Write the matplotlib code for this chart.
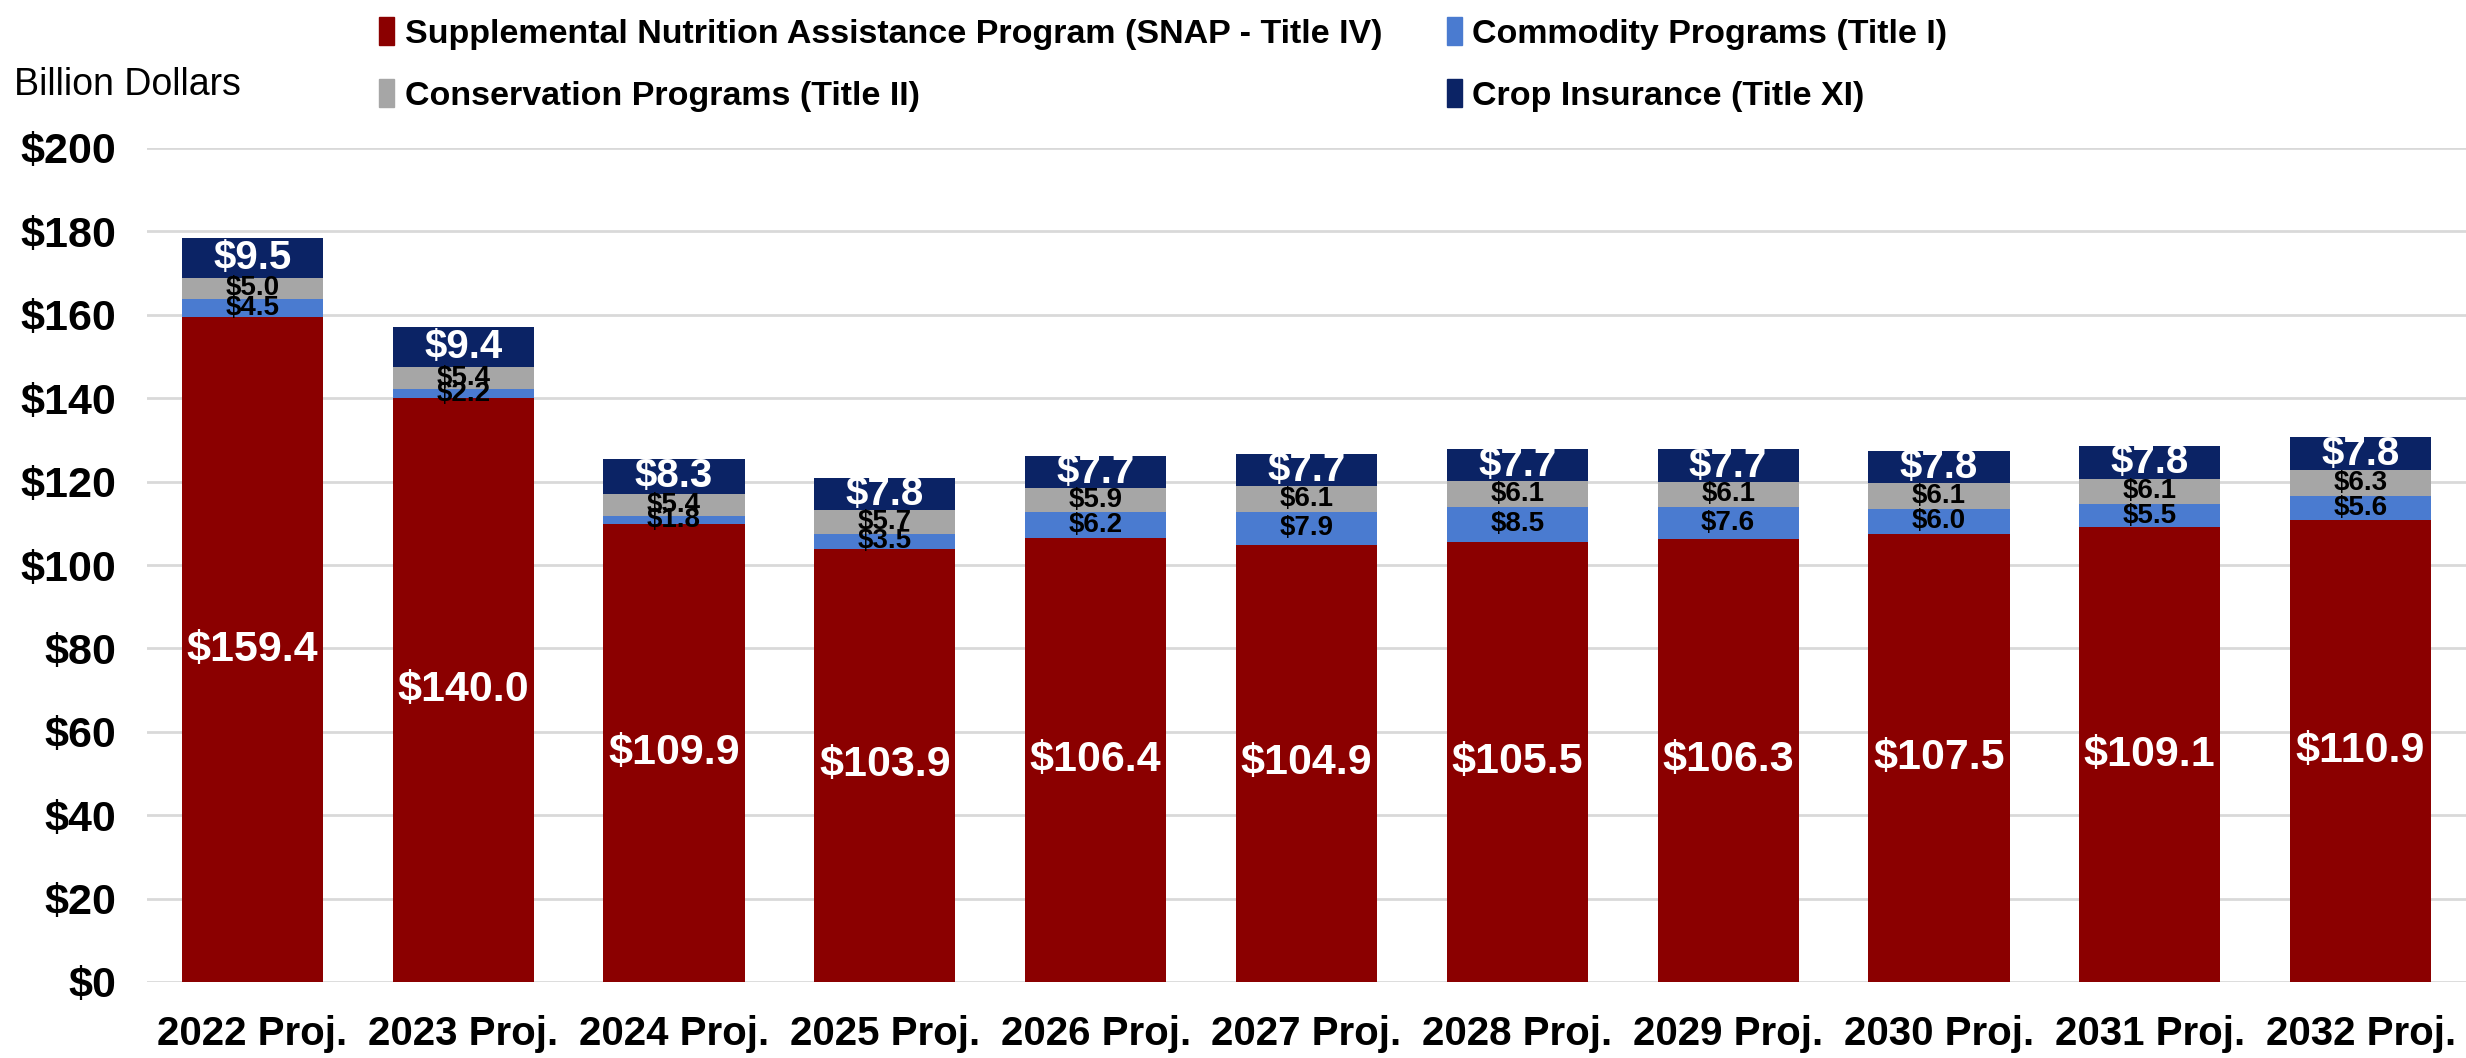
import matplotlib
matplotlib.use("Agg")
import matplotlib.pyplot as plt
from matplotlib.patches import Patch
import numpy as np

years = ["2022 Proj.", "2023 Proj.", "2024 Proj.", "2025 Proj.", "2026 Proj.", "2027 Proj.",
         "2028 Proj.", "2029 Proj.", "2030 Proj.", "2031 Proj.", "2032 Proj."]
snap = [159.4, 140.0, 109.9, 103.9, 106.4, 104.9, 105.5, 106.3, 107.5, 109.1, 110.9]
commodity = [4.5, 2.2, 1.8, 3.5, 6.2, 7.9, 8.5, 7.6, 6.0, 5.5, 5.6]
conservation = [5.0, 5.4, 5.4, 5.7, 5.9, 6.1, 6.1, 6.1, 6.1, 6.1, 6.3]
crop_ins = [9.5, 9.4, 8.3, 7.8, 7.7, 7.7, 7.7, 7.7, 7.8, 7.8, 7.8]
yticks = [0, 20, 40, 60, 80, 100, 120, 140, 160, 180, 200]

names = ["Supplemental Nutrition Assistance Program (SNAP - Title IV)",
         "Commodity Programs (Title I)",
         "Conservation Programs (Title II)",
         "Crop Insurance (Title XI)"]
colors = ["#8B0000", "#4A7BD0", "#A6A6A6", "#0B2365"]
lab_colors = ["white", "black", "black", "white"]
lab_sizes = [31, 20, 20, 29]

plt.rcParams['font.family'] = ['Liberation Sans', 'DejaVu Sans']

fig = plt.figure(figsize=(24.66, 10.58), dpi=100)
ax = fig.add_axes([147/2466, 1 - 982/1058, 1 - 147/2466, (982 - 148)/1058])

x = np.arange(len(years))
series = [snap, commodity, conservation, crop_ins]
bottom = np.zeros(len(years))
for vals, col, lc, ls in zip(series, colors, lab_colors, lab_sizes):
    v = np.array(vals)
    ax.bar(x, v, 0.67, bottom=bottom, color=col, zorder=3)
    for xi, b, vi in zip(x, bottom, v):
        ax.text(xi, b + vi / 2, f"${vi:.1f}", ha='center', va='center', color=lc,
                fontsize=ls, fontweight='bold', zorder=4)
    bottom = bottom + v

ax.set_xlim(-0.5, 10.5)
ax.set_ylim(0, 200)
ax.set_yticks(yticks)
ax.set_yticklabels([f"${t}" for t in yticks], fontsize=31, fontweight='bold')
ax.set_xticks(x)
ax.set_xticklabels(years, fontsize=29, fontweight='bold')
ax.tick_params(axis='both', length=0)
ax.tick_params(axis='x', pad=24)
ax.tick_params(axis='y', pad=22)
ax.grid(axis='y', color='#D9D9D9', linewidth=2, zorder=0)
for s in ax.spines.values():
    s.set_visible(False)

fig.text(14/2466, 1 - 85/1058, "Billion Dollars", fontsize=27, va='center', ha='left')

handles = [Patch(color=c) for c in colors]
order = [0, 2, 1, 3]
fig.legend([handles[i] for i in order], [names[i] for i in order],
           loc='upper left', bbox_to_anchor=(362/2466, 1.0), ncol=2,
           frameon=False, prop={'size': 24.5, 'weight': 'bold'},
           handlelength=0.45, handleheight=0.9, handletextpad=0.3,
           columnspacing=1.9, labelspacing=0.85, borderaxespad=0.1)

fig.savefig("out.png", dpi=100)
